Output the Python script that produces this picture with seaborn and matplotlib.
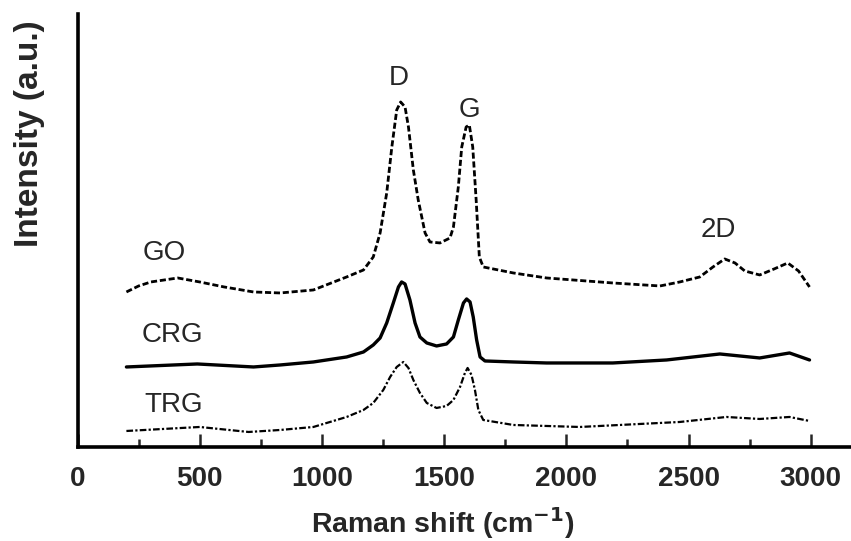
import matplotlib
matplotlib.use("Agg")
import matplotlib.pyplot as plt
import seaborn as sns
import pandas as pd

# Raman shift (cm^-1) and intensity (a.u.)
go_x = [200, 250, 300, 410, 500, 600, 720, 829, 965, 1101, 1170, 1210, 1238, 1265, 1286,
        1306, 1322, 1340, 1354, 1374, 1394, 1422, 1442, 1483, 1524, 1538, 1558, 1572,
        1590, 1603, 1617, 1631, 1644, 1660, 1783, 1919, 2190, 2383, 2464, 2546, 2600,
        2648, 2690, 2730, 2791, 2850, 2906, 2950, 2995]
go_y = [155, 161, 165, 169, 165, 160, 155, 154, 157, 170, 177, 190, 214, 254, 300,
        337, 345, 340, 320, 277, 247, 214, 205, 204, 209, 220, 260, 300,
        320, 322, 300, 247, 190, 180, 174, 169, 164, 161, 165, 170, 180,
        188, 184, 176, 172, 178, 184, 176, 160]

crg_x = [200, 490, 720, 829, 965, 1101, 1170, 1210, 1238, 1265, 1292, 1313, 1326, 1340,
         1360, 1381, 1401, 1429, 1469, 1510, 1538, 1558, 1579, 1592, 1606, 1619, 1633,
         1647, 1667, 1783, 1919, 2190, 2410, 2628, 2791, 2913, 2995]
crg_y = [80, 83, 80, 82, 85, 90, 95, 102, 109, 124, 144, 160, 165, 163,
         147, 124, 110, 104, 101, 103, 110, 127, 144, 148, 145, 130, 107,
         90, 86, 85, 84, 84, 87, 93, 89, 94, 87]

trg_x = [200, 500, 700, 829, 965, 1101, 1170, 1210, 1251, 1279, 1306, 1333, 1354, 1374,
         1401, 1429, 1469, 1510, 1538, 1565, 1585, 1596, 1612, 1626, 1640, 1660, 1783,
         2055, 2464, 2655, 2791, 2913, 2995]
trg_y = [16, 20, 15, 17, 20, 30, 37, 44, 57, 70, 80, 85, 79, 67,
         54, 44, 39, 41, 47, 60, 74, 79, 72, 57, 37, 27, 22,
         20, 25, 30, 28, 30, 26]

series_names = ["GO", "CRG", "TRG"]
peak_labels = ["D", "G", "2D"]
x_ticks = [0, 500, 1000, 1500, 2000, 2500, 3000]

sns.set_style("ticks")
plt.rcParams["font.family"] = ["Liberation Sans", "DejaVu Sans"]

fig = plt.figure(figsize=(8.51, 5.41), dpi=100)
ax = fig.add_axes([0.0911, 0.1738, 0.909, 0.8004])

df_go = pd.DataFrame({"x": go_x, "y": go_y})
df_crg = pd.DataFrame({"x": crg_x, "y": crg_y})
df_trg = pd.DataFrame({"x": trg_x, "y": trg_y})

sns.lineplot(data=df_go, x="x", y="y", ax=ax, color="black", lw=2.0,
             linestyle=(0, (2.2, 1.0)))
sns.lineplot(data=df_crg, x="x", y="y", ax=ax, color="black", lw=2.4)
sns.lineplot(data=df_trg, x="x", y="y", ax=ax, color="black", lw=1.6,
             linestyle=(0, (3.0, 1.0, 1.0, 1.0)))

# curve labels
ax.text(266, 187, series_names[0], fontsize=20, ha="left", va="baseline")
ax.text(262, 105, series_names[1], fontsize=20, ha="left", va="baseline")
ax.text(272, 35, series_names[2], fontsize=20, ha="left", va="baseline")
ax.text(1313, 362, peak_labels[0], fontsize=20, ha="center", va="baseline")
ax.text(1602, 330, peak_labels[1], fontsize=20, ha="center", va="baseline")
ax.text(2620, 210, peak_labels[2], fontsize=20, ha="center", va="baseline")

ax.set_xlim(0, 3165)
ax.set_ylim(0, 433)
ax.set_xticks(x_ticks)
ax.set_xticklabels([str(t) for t in x_ticks], fontsize=20, fontweight="bold")
ax.set_xticks([250, 750, 1250, 1750, 2250, 2750], minor=True)
ax.tick_params(axis="x", which="major", direction="in", length=9.5, width=1.8, pad=14)
ax.tick_params(axis="x", which="minor", direction="in", length=5.5, width=1.8)
ax.set_yticks([])
ax.set_xlabel("Raman shift (cm$^{\\mathbf{-1}}$)", fontsize=20.5, fontweight="bold",
              va="baseline")
ax.xaxis.set_label_coords(0.472, -0.1986)
ax.set_ylabel("Intensity (a.u.)", fontsize=24, fontweight="bold")
ax.yaxis.set_label_coords(-0.042, 0.723)

for s in ["top", "right"]:
    ax.spines[s].set_visible(False)
for s in ["left", "bottom"]:
    ax.spines[s].set_linewidth(2.6)
    ax.spines[s].set_color("black")

fig.savefig("out.png", dpi=100)
